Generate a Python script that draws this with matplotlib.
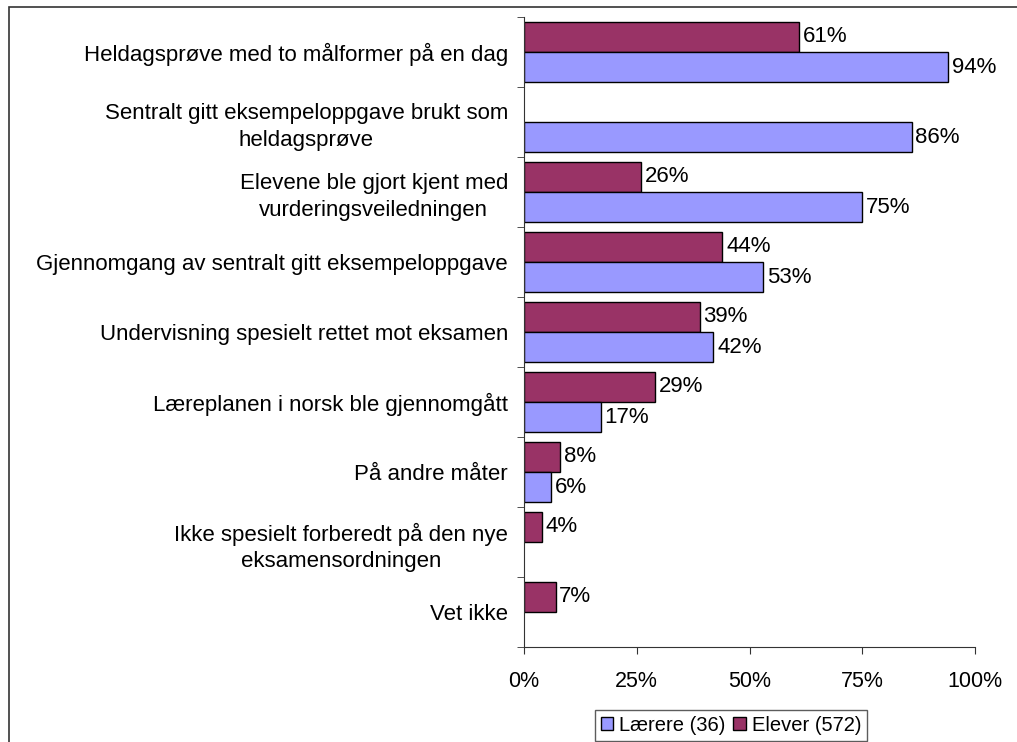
import numpy as np
import matplotlib
matplotlib.use("Agg")
from matplotlib import pyplot as plt
from matplotlib.patches import Rectangle

plt.rcParams['font.family'] = ['Liberation Sans', 'DejaVu Sans']

categories = ['Heldagsprøve med to målformer på en dag',
              'Sentralt gitt eksempeloppgave brukt som\nheldagsprøve',
              'Elevene ble gjort kjent med\nvurderingsveiledningen',
              'Gjennomgang av sentralt gitt eksempeloppgave',
              'Undervisning spesielt rettet mot eksamen',
              'Læreplanen i norsk ble gjennomgått',
              'På andre måter',
              'Ikke spesielt forberedt på den nye\neksamensordningen',
              'Vet ikke']
laerere = [94, 86, 75, 53, 42, 17, 6, None, None]
elever = [61, None, 26, 44, 39, 29, 8, 4, 7]
series_names = ['Lærere (36)', 'Elever (572)']
x_ticks = [0, 25, 50, 75, 100]

col_laerere = '#9999FF'
col_elever = '#993366'
fs = 16

fig = plt.figure(figsize=(10.17, 7.42), dpi=100)
fig.patches.append(Rectangle((9/1017, -0.1), 1.2, 1.1 - 7/742, transform=fig.transFigure,
                             fill=False, edgecolor='#333333', linewidth=1.2))
ax = fig.add_axes([524/1017, 1 - 647/742, 451/1017, 630/742])

h = 0.4286
pos = np.arange(len(categories))
for i in pos:
    if elever[i] is not None:
        ax.barh(i - h/2, elever[i], height=h, color=col_elever, edgecolor='black', linewidth=1)
        ax.text(elever[i] + 0.8, i - h/2, '%d%%' % elever[i], va='center', ha='left', fontsize=fs)
    if laerere[i] is not None:
        ax.barh(i + h/2, laerere[i], height=h, color=col_laerere, edgecolor='black', linewidth=1)
        ax.text(laerere[i] + 0.8, i + h/2, '%d%%' % laerere[i], va='center', ha='left', fontsize=fs)

ax.set_xlim(0, 100)
ax.set_ylim(len(categories) - 0.5, -0.5)
ax.set_xticks(x_ticks)
ax.set_xticklabels(['%d%%' % t for t in x_ticks], fontsize=15.5)
ax.set_yticks(pos)
ax.set_yticklabels(categories, fontsize=fs, multialignment='center', linespacing=1.35)
ax.set_yticks(np.arange(len(categories) + 1) - 0.5, minor=True)
ax.tick_params(axis='y', which='major', length=0, pad=11.5)
ax.tick_params(axis='y', which='minor', length=5, direction='out', color='#333333')
ax.tick_params(axis='x', length=5, direction='out', pad=12, color='#333333')
for s in ['top', 'right']:
    ax.spines[s].set_visible(False)
for s in ['left', 'bottom']:
    ax.spines[s].set_color('#333333')

handles = [Rectangle((0, 0), 1, 1, facecolor=col_laerere, edgecolor='black'),
           Rectangle((0, 0), 1, 1, facecolor=col_elever, edgecolor='black')]
leg = fig.legend(handles, series_names, loc='lower center', bbox_to_anchor=(731/1017, 1/742),
                 ncol=2, fontsize=14.5, frameon=True, fancybox=False, handlelength=0.6,
                 handleheight=0.6, handletextpad=0.3, columnspacing=0.4, borderpad=0.3,
                 borderaxespad=0)
leg.get_frame().set_edgecolor('#333333')
leg.get_frame().set_linewidth(1)

fig.savefig('out.png', dpi=100)
